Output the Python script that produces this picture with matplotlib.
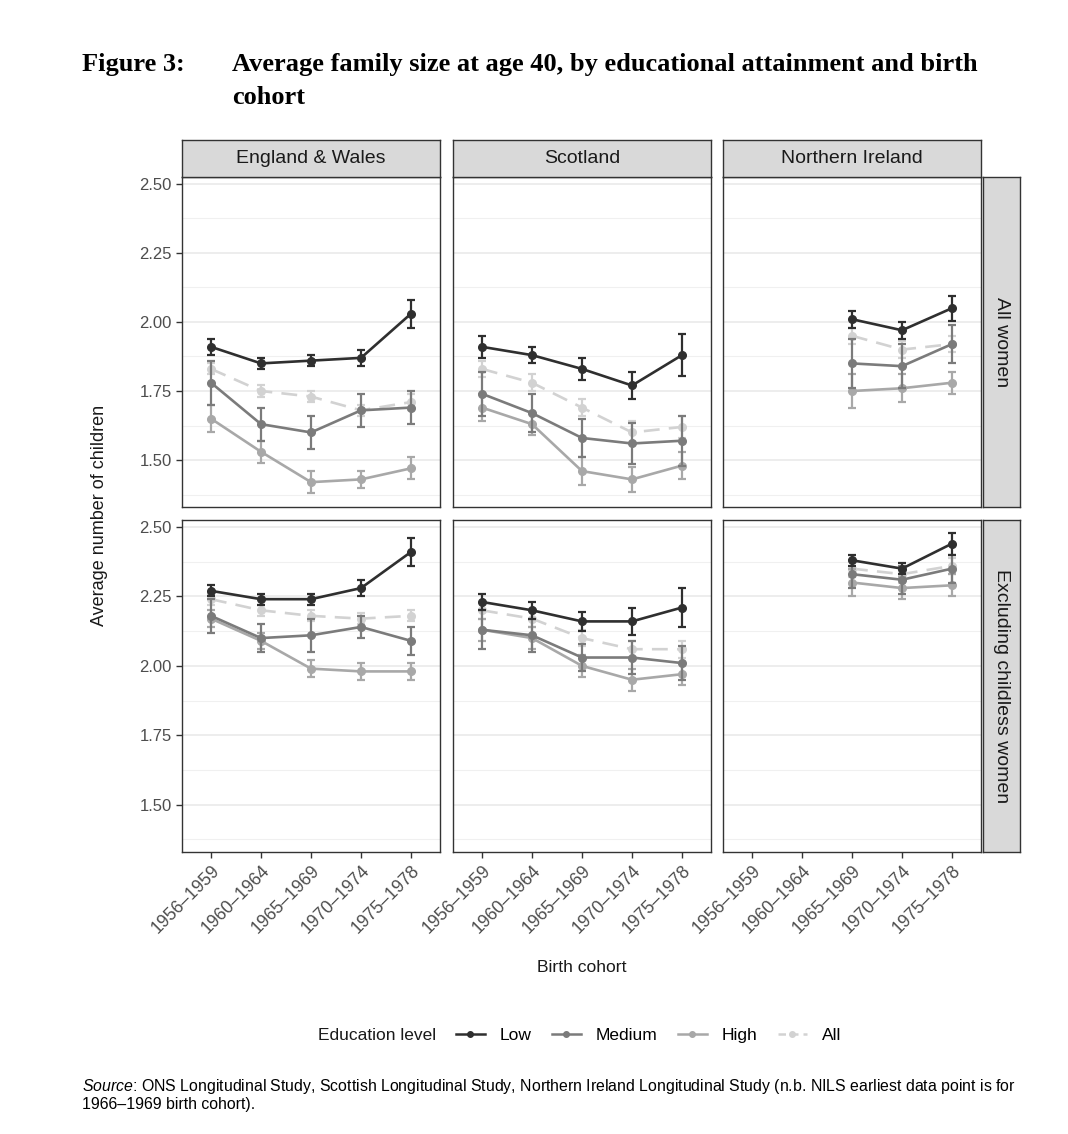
import matplotlib.pyplot as plt
from matplotlib.lines import Line2D
import numpy as np

nan = np.nan

cohorts = ["1956–1959", "1960–1964", "1965–1969", "1970–1974", "1975–1978"]
levels = ["Low", "Medium", "High", "All"]
regions = ["England & Wales", "Scotland", "Northern Ireland"]
measures = ["All women", "Excluding childless women"]

# rows: Low, Medium, High, All
ew_all_mean = [[1.91, 1.85, 1.86, 1.87, 2.03],
               [1.78, 1.63, 1.60, 1.68, 1.69],
               [1.65, 1.53, 1.42, 1.43, 1.47],
               [1.83, 1.75, 1.73, 1.68, 1.71]]
ew_all_err = [[0.03, 0.02, 0.02, 0.03, 0.05],
              [0.08, 0.06, 0.06, 0.06, 0.06],
              [0.05, 0.04, 0.04, 0.03, 0.04],
              [0.02, 0.02, 0.02, 0.02, 0.03]]

sc_all_mean = [[1.91, 1.88, 1.83, 1.77, 1.88],
               [1.74, 1.67, 1.58, 1.56, 1.57],
               [1.69, 1.63, 1.46, 1.43, 1.48],
               [1.83, 1.78, 1.69, 1.60, 1.62]]
sc_all_err = [[0.04, 0.03, 0.04, 0.05, 0.075],
              [0.08, 0.07, 0.07, 0.075, 0.09],
              [0.05, 0.04, 0.05, 0.045, 0.05],
              [0.03, 0.03, 0.03, 0.04, 0.04]]

ni_all_mean = [[nan, nan, 2.01, 1.97, 2.05],
               [nan, nan, 1.85, 1.84, 1.92],
               [nan, nan, 1.75, 1.76, 1.78],
               [nan, nan, 1.95, 1.90, 1.92]]
ni_all_err = [[nan, nan, 0.03, 0.03, 0.045],
              [nan, nan, 0.09, 0.08, 0.07],
              [nan, nan, 0.06, 0.05, 0.04],
              [nan, nan, 0.03, 0.03, 0.03]]

ew_exc_mean = [[2.27, 2.24, 2.24, 2.28, 2.41],
               [2.18, 2.10, 2.11, 2.14, 2.09],
               [2.17, 2.09, 1.99, 1.98, 1.98],
               [2.24, 2.20, 2.18, 2.17, 2.18]]
ew_exc_err = [[0.02, 0.02, 0.02, 0.03, 0.05],
              [0.06, 0.05, 0.06, 0.04, 0.05],
              [0.03, 0.03, 0.03, 0.03, 0.03],
              [0.02, 0.02, 0.02, 0.02, 0.02]]

sc_exc_mean = [[2.23, 2.20, 2.16, 2.16, 2.21],
               [2.13, 2.11, 2.03, 2.03, 2.01],
               [2.13, 2.10, 2.00, 1.95, 1.97],
               [2.20, 2.17, 2.10, 2.06, 2.06]]
sc_exc_err = [[0.03, 0.03, 0.035, 0.05, 0.07],
              [0.07, 0.06, 0.05, 0.06, 0.06],
              [0.04, 0.04, 0.04, 0.04, 0.04],
              [0.03, 0.03, 0.03, 0.03, 0.03]]

ni_exc_mean = [[nan, nan, 2.38, 2.35, 2.44],
               [nan, nan, 2.33, 2.31, 2.35],
               [nan, nan, 2.30, 2.28, 2.29],
               [nan, nan, 2.35, 2.33, 2.36]]
ni_exc_err = [[nan, nan, 0.02, 0.02, 0.04],
              [nan, nan, 0.05, 0.05, 0.05],
              [nan, nan, 0.05, 0.04, 0.04],
              [nan, nan, 0.03, 0.03, 0.03]]

colors = ["#2f2f2f", "#7b7b7b", "#a8a8a8", "#d2d2d2"]
styles = ["-", "-", "-", "--"]

panels = [[(ew_all_mean, ew_all_err), (sc_all_mean, sc_all_err), (ni_all_mean, ni_all_err)],
          [(ew_exc_mean, ew_exc_err), (sc_exc_mean, sc_exc_err), (ni_exc_mean, ni_exc_err)]]

W, H = 1068, 1134
fig = plt.figure(figsize=(W / 100, H / 100), dpi=100)
plt.rcParams['font.family'] = ['Liberation Sans', 'DejaVu Sans']
plt.rcParams['mathtext.fontset'] = 'custom'
plt.rcParams['mathtext.it'] = 'Liberation Sans:italic'
plt.rcParams['mathtext.rm'] = 'Liberation Sans'

def fx(px):
    return px / W

def fy(py):
    return 1 - py / H

col_left = [182, 453, 723]
col_w = 258
row_top = [177, 520]
row_h = [330, 332]

x = np.arange(1, 6)
dark = "#333333"

for r in range(2):
    for c in range(3):
        ax = fig.add_axes([fx(col_left[c]), fy(row_top[r] + row_h[r]), col_w / W, row_h[r] / H])
        mean, err = panels[r][c]
        for i in range(4):
            ax.errorbar(x, mean[i], yerr=err[i], color=colors[i], linestyle=styles[i],
                        linewidth=1.9, marker='o', markersize=5.5, capsize=3, capthick=1.6,
                        elinewidth=1.6, dashes=(6, 3.5) if styles[i] == "--" else (None, None),
                        zorder=3 + (4 - i))
        ax.set_xlim(0.42, 5.58)
        ax.set_ylim(1.33, 2.525)
        ax.set_yticks([1.5, 1.75, 2.0, 2.25, 2.5])
        ax.set_yticks([1.375, 1.625, 1.875, 2.125, 2.375], minor=True)
        ax.set_xticks(x)
        ax.grid(axis='y', which='major', color="#e8e8e8", linewidth=1.1, zorder=0)
        ax.grid(axis='y', which='minor', color="#f0f0f0", linewidth=0.8, zorder=0)
        ax.set_axisbelow(True)
        ax.tick_params(which='minor', length=0)
        ax.tick_params(which='major', length=4, width=1, color=dark, labelsize=12,
                       labelcolor="#4d4d4d")
        for s in ax.spines.values():
            s.set_color(dark)
            s.set_linewidth(1.0)
        if c == 0:
            ax.set_yticklabels(["1.50", "1.75", "2.00", "2.25", "2.50"])
        else:
            ax.tick_params(axis='y', left=False, labelleft=False)
        if r == 1:
            ax.set_xticklabels(cohorts, rotation=45, ha='right', rotation_mode='anchor',
                               fontsize=12.7)
        else:
            ax.tick_params(axis='x', bottom=False, labelbottom=False)

        # top strip
        if r == 0:
            sax = fig.add_axes([fx(col_left[c]), fy(177), col_w / W, 37 / H])
            sax.set_facecolor("#d9d9d9")
            sax.set_xticks([])
            sax.set_yticks([])
            for s in sax.spines.values():
                s.set_color(dark)
                s.set_linewidth(1.0)
            sax.text(0.5, 0.5, regions[c], ha='center', va='center', fontsize=14,
                     color="#1a1a1a", transform=sax.transAxes)
        # right strip
        if c == 2:
            rax = fig.add_axes([fx(983), fy(row_top[r] + row_h[r]), 37 / W, row_h[r] / H])
            rax.set_facecolor("#d9d9d9")
            rax.set_xticks([])
            rax.set_yticks([])
            for s in rax.spines.values():
                s.set_color(dark)
                s.set_linewidth(1.0)
            rax.text(0.5, 0.5, measures[r], ha='center', va='center', fontsize=14,
                     rotation=270, color="#1a1a1a", transform=rax.transAxes)

# axis titles
fig.text(fx(100), fy(515), "Average number of children", rotation=90, ha='center',
         va='center', fontsize=13, color="#1a1a1a")
fig.text(fx(582), fy(968), "Birth cohort", ha='center', va='center', fontsize=12.6,
         color="#1a1a1a")

# figure title
fig.text(fx(82), fy(65), "Figure 3:", fontsize=19, fontweight='bold',
         family='Liberation Serif', ha='left', va='center')
fig.text(fx(232), fy(65), "Average family size at age 40, by educational attainment and birth",
         fontsize=19, fontweight='bold', family='Liberation Serif', ha='left', va='center')
fig.text(fx(232), fy(97), "cohort", fontsize=19, fontweight='bold',
         family='Liberation Serif', ha='left', va='center')

# legend
fig.text(fx(318), fy(1035), "Education level", fontsize=12.5, ha='left', va='center',
         color="#1a1a1a")
handles = [Line2D([0], [0], color=colors[i], linestyle=styles[i], linewidth=1.8,
                  marker='o', markersize=4, dashes=(3, 2) if styles[i] == "--" else (None, None))
           for i in range(4)]
fig.legend(handles, levels, loc='center left', bbox_to_anchor=(fx(440), fy(1035)),
           ncol=4, frameon=False, fontsize=12.5, handlelength=1.7, columnspacing=1.15,
           handletextpad=0.85)

# source note
fig.text(fx(82), fy(1086), r"$\it{Source}$: ONS Longitudinal Study, Scottish Longitudinal Study, "
         "Northern Ireland Longitudinal Study (n.b. NILS earliest data point is for",
         fontsize=11.4, ha='left', va='center')
fig.text(fx(82), fy(1104), "1966–1969 birth cohort).", fontsize=11.4, ha='left', va='center')

fig.savefig("out.png", dpi=100)
